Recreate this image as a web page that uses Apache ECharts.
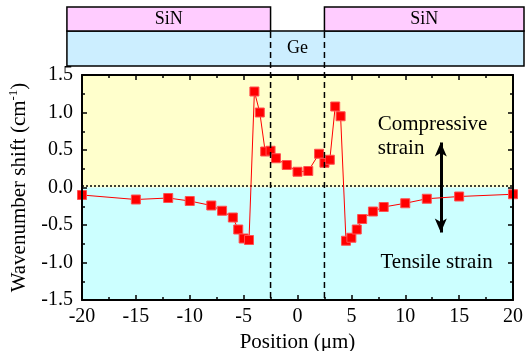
<!DOCTYPE html>
<html>
<head>
<meta charset="utf-8">
<script src="https://cdn.jsdelivr.net/npm/echarts@6/dist/echarts.min.js"></script>
<style>
  html, body { margin: 0; padding: 0; background: #fff; }
  #main { width: 526px; height: 351px; }
</style>
</head>
<body>
<div id="main"></div>
<script>
// Raman shift across a Ge stripe under SiN stressor
const positions = [-20, -15, -12, -10, -8, -7, -6, -5.5, -5, -4.5, -4, -3.5, -3, -2.5, -2, -1, 0, 1, 2, 2.5, 3, 3.5, 4, 4.5, 5, 5.5, 6, 7, 8, 10, 12, 15, 20];
const shifts = [-0.10, -0.16, -0.14, -0.18, -0.24, -0.31, -0.40, -0.56, -0.68, -0.70, 1.28, 1.00, 0.48, 0.49, 0.39, 0.30, 0.21, 0.22, 0.45, 0.33, 0.37, 1.08, 0.95, -0.71, -0.67, -0.56, -0.42, -0.32, -0.26, -0.21, -0.15, -0.12, -0.09];
const geEdges = [-2.5, 2.5];
const zeroLine = 0.03;
const arrowX = 13.3;
const arrowEnds = [0.6, -0.6];

const FONT = 'Liberation Serif';
const chart = echarts.init(document.getElementById('main'));

const frameAxis = {
  z: 10,
  axisLine: { onZero: false, lineStyle: { color: '#000', width: 2 } },
  axisTick: { inside: true, length: 5, lineStyle: { color: '#000', width: 1.5 } },
  minorTick: { show: true, splitNumber: 2, length: 3, lineStyle: { color: '#000', width: 1.5 } },
  splitLine: { show: false },
  axisLabel: { show: false }
};

const option = {
  animation: false,
  grid: { left: 82, right: 13, top: 75, bottom: 51, outerBoundsMode: 'none', containLabel: false },
  xAxis: [
    Object.assign({}, frameAxis, {
      type: 'value', min: -20, max: 20, interval: 5, position: 'bottom',
      name: 'Position (\u03bcm)', nameLocation: 'middle', nameGap: 26,
      nameTextStyle: { fontFamily: FONT, fontSize: 21, color: '#000' },
      axisLabel: { show: true, fontFamily: FONT, fontSize: 20, color: '#000', margin: 7 }
    }),
    Object.assign({}, frameAxis, { type: 'value', min: -20, max: 20, interval: 5, position: 'top' })
  ],
  yAxis: [
    Object.assign({}, frameAxis, {
      type: 'value', min: -1.5, max: 1.5, interval: 0.5, position: 'left',
      name: 'Wavenumber shift (cm{sup|-1})', nameLocation: 'middle', nameGap: 48,
      nameTextStyle: {
        fontFamily: FONT, fontSize: 21, color: '#000',
        rich: { sup: { fontFamily: FONT, fontSize: 13, color: '#000', padding: [0, 0, 12, 0] } }
      },
      axisLabel: {
        show: true, fontFamily: FONT, fontSize: 20, color: '#000', margin: 9,
        formatter: v => v.toFixed(1)
      }
    }),
    Object.assign({}, frameAxis, { type: 'value', min: -1.5, max: 1.5, interval: 0.5, position: 'right' })
  ],
  series: [{
    type: 'line',
    data: positions.map((x, i) => [x, shifts[i]]),
    symbol: 'rect',
    symbolSize: 9,
    clip: false,
    itemStyle: { color: '#ff0000', borderColor: '#ff5050', borderWidth: 1 },
    lineStyle: { color: '#ff0000', width: 1 },
    z: 5,
    markArea: {
      silent: true,
      data: [
        [{ yAxis: 0, itemStyle: { color: '#ffffcc' } }, { yAxis: 1.5 }],
        [{ yAxis: -1.5, itemStyle: { color: '#ccffff' } }, { yAxis: 0 }]
      ]
    },
    markLine: {
      silent: true,
      animation: false,
      label: { show: false },
      data: [
        [{ coord: [-20, zeroLine], symbol: 'none', lineStyle: { type: [2, 2], color: '#000', width: 1.5 } },
         { coord: [20, zeroLine], symbol: 'none' }],
        [{ coord: [arrowX, arrowEnds[0]], symbol: 'arrow', symbolSize: [9, 14], lineStyle: { type: 'solid', color: '#000', width: 3 } },
         { coord: [arrowX, arrowEnds[1]], symbol: 'arrow', symbolSize: [9, 14] }]
      ]
    }
  }]
};
chart.setOption(option);

// schematic of the layer stack and annotations, placed from the axis scales
const px = (x, y) => chart.convertToPixel({ gridIndex: 0 }, [x, y]);
const leftPx = px(-21.4, 0)[0];
const rightPx = 524;
const e0 = px(geEdges[0], 0)[0];
const e1 = px(geEdges[1], 0)[0];
const plotBottom = px(0, -1.5)[1];
const boxStroke = { stroke: '#000', lineWidth: 1.5 };
const comp = px(7.45, 1.0);
const tens = px(7.7, -0.86);

chart.setOption({
  graphic: [
    { type: 'rect', shape: { x: leftPx, y: 31, width: rightPx - leftPx, height: 35 }, style: Object.assign({ fill: '#cceeff' }, boxStroke), z: 50 },
    { type: 'rect', shape: { x: leftPx, y: 7, width: e0 - leftPx, height: 24 }, style: Object.assign({ fill: '#ffccff' }, boxStroke), z: 51 },
    { type: 'rect', shape: { x: e1, y: 7, width: rightPx - e1, height: 24 }, style: Object.assign({ fill: '#ffccff' }, boxStroke), z: 51 },
    { type: 'text', x: (leftPx + e0) / 2, y: 19, style: { text: 'SiN', font: '18px ' + FONT, fill: '#000', textAlign: 'center', textVerticalAlign: 'middle' }, z: 52 },
    { type: 'text', x: (e1 + rightPx) / 2, y: 19, style: { text: 'SiN', font: '18px ' + FONT, fill: '#000', textAlign: 'center', textVerticalAlign: 'middle' }, z: 52 },
    { type: 'text', x: (e0 + e1) / 2, y: 48, style: { text: 'Ge', font: '18px ' + FONT, fill: '#000', textAlign: 'center', textVerticalAlign: 'middle' }, z: 52 },
    { type: 'line', shape: { x1: e0, y1: 32, x2: e0, y2: plotBottom }, style: { stroke: '#000', lineWidth: 1.5, lineDash: [6, 4] }, z: 53 },
    { type: 'line', shape: { x1: e1, y1: 32, x2: e1, y2: plotBottom }, style: { stroke: '#000', lineWidth: 1.5, lineDash: [6, 4] }, z: 53 },
    { type: 'text', x: comp[0], y: comp[1], style: { text: 'Compressive\nstrain', font: '21px ' + FONT, lineHeight: 24, fill: '#000', textAlign: 'left', textVerticalAlign: 'top' }, z: 52 },
    { type: 'text', x: tens[0], y: tens[1], style: { text: 'Tensile strain', font: '21px ' + FONT, fill: '#000', textAlign: 'left', textVerticalAlign: 'top' }, z: 52 }
  ]
});
</script>
</body>
</html>
